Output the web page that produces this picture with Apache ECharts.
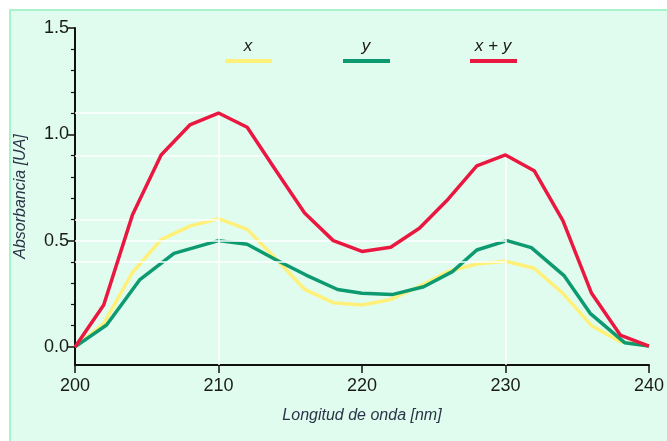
<!DOCTYPE html>
<html>
<head>
<meta charset="utf-8">
<script src="https://cdn.jsdelivr.net/npm/echarts@6/dist/echarts.min.js"></script>
<style>
  html, body { margin: 0; padding: 0; background: #fff; }
  #frame { position: absolute; left: 9px; top: 9px; right: 0; bottom: 0;
    background: #e0fcee; border-left: 2px solid #a6f3cc; border-top: 2px solid #a6f3cc; }
  #chart { position: absolute; left: 0; top: 0; width: 667px; height: 441px; }
</style>
</head>
<body>
<div id="frame"></div>
<div id="chart"></div>
<script>
// wavelengths (nm) and absorbances
var xWave = [200, 202, 204, 206, 208, 210, 212, 214, 216, 218, 220, 222, 224, 226, 228, 230, 232, 234, 236, 238, 240];
var xAbs  = [0, 0.11, 0.35, 0.505, 0.568, 0.603, 0.553, 0.415, 0.271, 0.208, 0.197, 0.223, 0.285, 0.355, 0.39, 0.403, 0.37, 0.252, 0.1, 0.025, 0.004];

var yWave = [200, 202.2, 204.5, 206.9, 210, 212, 214, 216.1, 218.3, 220, 222.1, 224.3, 226.3, 228, 230.1, 231.8, 234.1, 235.9, 238.3, 240];
var yAbs  = [0, 0.103, 0.315, 0.44, 0.5, 0.483, 0.41, 0.338, 0.27, 0.252, 0.246, 0.283, 0.354, 0.456, 0.5, 0.467, 0.334, 0.158, 0.02, 0.004];

var sumWave = [200, 202, 204, 206, 208, 210, 212, 214, 216, 218, 220, 222, 224, 226, 228, 230, 232, 234, 236, 238, 240];
var sumAbs  = [0, 0.197, 0.62, 0.903, 1.044, 1.1, 1.033, 0.83, 0.63, 0.5, 0.449, 0.469, 0.558, 0.695, 0.852, 0.903, 0.829, 0.594, 0.252, 0.056, 0.004];

// peak guide lines: [wavelength, absorbance]
var peakGuides = [[210, 1.1], [210, 0.6], [230, 0.9], [230, 0.5], [230, 0.4]];
var peakDrops = [[210, 1.1], [230, 0.9]];

var yLabelTicks = [0, 0.5, 1.0, 1.5];
var yMinorTicks = [0.1, 0.2, 0.3, 0.4, 0.6, 0.7, 0.8, 0.9, 1.1, 1.2, 1.3, 1.4];

var names = ['x', 'y', 'x + y'];
var colors = ['#fff07a', '#0e9a70', '#ea1840'];

var yMin = -0.085, yMax = 1.5;
var narrow = '"Liberation Sans", Arial, sans-serif';

function pairs(xs, ys) {
  return xs.map(function (v, i) { return [v, ys[i]]; });
}

var guideData = peakGuides.map(function (p) {
  return [{ coord: [200, p[1]] }, { coord: [p[0], p[1]] }];
}).concat(peakDrops.map(function (p) {
  return [{ coord: [p[0], p[1]] }, { coord: [p[0], yMin] }];
}));

var chart = echarts.init(document.getElementById('chart'), null, { renderer: 'canvas' });

var legendItems = [];
var legendX = [248, 366, 493];
names.forEach(function (n, i) {
  legendItems.push({
    type: 'text', x: legendX[i], y: 38,
    style: { text: n, fill: '#1a1a1a', font: 'italic 17px ' + narrow, textAlign: 'center' }
  });
  legendItems.push({
    type: 'line',
    shape: { x1: legendX[i] - 23, y1: 61, x2: legendX[i] + 24, y2: 61 },
    style: { stroke: colors[i], lineWidth: 4 }
  });
});

chart.setOption({
  animation: false,
  backgroundColor: 'transparent',
  grid: { left: 75, right: 14, top: 28, bottom: 76 },
  graphic: legendItems,
  xAxis: {
    type: 'value', min: 200, max: 240, interval: 10,
    name: 'Longitud de onda [nm]', nameLocation: 'middle', nameGap: 43,
    nameTextStyle: { fontFamily: narrow, fontStyle: 'italic', fontSize: 16, color: '#2a3448' },
    axisLine: { onZero: false, lineStyle: { color: '#111', width: 2 } },
    axisTick: { show: true, length: 8, lineStyle: { color: '#111', width: 1.5 } },
    axisLabel: { fontFamily: narrow, fontSize: 18, color: '#1a1a1a', margin: 12 },
    splitLine: { show: false }
  },
  yAxis: [{
    type: 'value', min: yMin, max: yMax,
    name: 'Absorbancia [UA]', nameLocation: 'middle', nameGap: 46,
    nameTextStyle: { fontFamily: narrow, fontStyle: 'italic', fontSize: 16, color: '#2a3448' },
    axisLine: { show: true, onZero: false, lineStyle: { color: '#111', width: 2 } },
    axisTick: { show: true, length: 7, customValues: yLabelTicks, lineStyle: { color: '#111', width: 1.5 } },
    axisLabel: {
      customValues: yLabelTicks, fontFamily: narrow, fontSize: 18, color: '#1a1a1a', margin: 6,
      formatter: function (v) { return v.toFixed(1); }
    },
    splitLine: { show: false }
  }, {
    type: 'value', min: yMin, max: yMax, position: 'left',
    axisLine: { show: false },
    axisTick: { show: true, length: 4, customValues: yMinorTicks, lineStyle: { color: '#111', width: 1.2 } },
    axisLabel: { show: false },
    splitLine: { show: false }
  }],
  series: [{
    name: 'guides', type: 'line', data: [], silent: true,
    markLine: {
      silent: true, symbol: 'none', label: { show: false },
      lineStyle: { color: '#ffffff', width: 1.5, type: 'solid' },
      data: guideData
    }
  }, {
    name: names[0], type: 'line', data: pairs(xWave, xAbs), showSymbol: false,
    lineStyle: { color: colors[0], width: 3.5 }, z: 3
  }, {
    name: names[1], type: 'line', data: pairs(yWave, yAbs), showSymbol: false,
    lineStyle: { color: colors[1], width: 3.5 }, z: 4
  }, {
    name: names[2], type: 'line', data: pairs(sumWave, sumAbs), showSymbol: false,
    lineStyle: { color: colors[2], width: 3.5 }, z: 5
  }]
});
</script>
</body>
</html>
